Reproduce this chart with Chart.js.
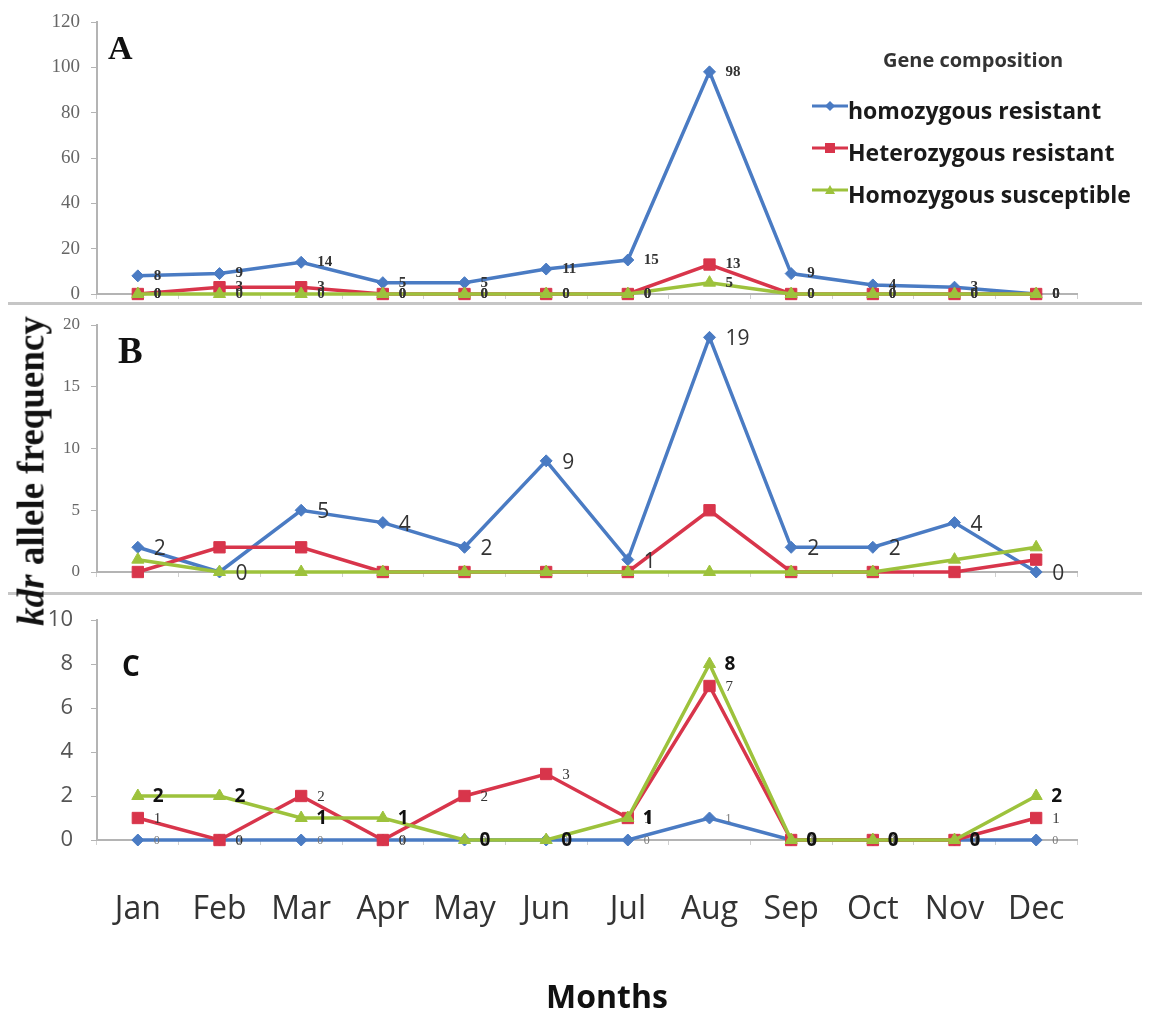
<!DOCTYPE html>
<html><head><meta charset="utf-8">
<script src="https://cdn.jsdelivr.net/npm/chart.js@4.4.1/dist/chart.umd.min.js"></script>
<style>
html,body{margin:0;padding:0;background:#fff;}
#wrap{position:relative;width:1150px;height:1016px;overflow:hidden;background:#fff;}
canvas{position:absolute;left:0;}
.t{position:absolute;white-space:nowrap;line-height:1;}
.sep{position:absolute;left:8px;width:1134px;height:3px;background:#c6c6c6;}
.leg{position:absolute;left:812px;}
</style></head><body>
<div id="wrap">
<canvas id="cA" width="1150" height="303" style="top:0px"></canvas>
<canvas id="cB" width="1150" height="294" style="top:300px"></canvas>
<canvas id="cC" width="1150" height="422" style="top:594px"></canvas>
<div class="sep" style="top:302px"></div>
<div class="sep" style="top:592px"></div>
<div class="t" style="left:108px;top:29px;font:bold 34px 'Liberation Serif';color:#111">A</div>
<div class="t" style="left:118px;top:329px;font:bold 37px 'Liberation Serif';color:#111">B</div>
<div class="t" style="left:122px;top:646px;font:bold 28px 'Open Sans';color:#111">C</div>
<div class="t" id="ytitle" style="left:31px;top:471px;transform:translate(-50%,-50%) rotate(-90deg);font:bold 37px 'Liberation Serif';color:#111"><i>kdr</i> allele frequency</div>
<div class="t" style="left:607px;top:995px;transform:translate(-50%,-50%);font:bold 32px 'Open Sans';color:#111">Months</div>
<div id="legend"></div>
</div>
<script>
const months = ['Jan','Feb','Mar','Apr','May','Jun','Jul','Aug','Sep','Oct','Nov','Dec'];
const seriesNames = ['homozygous resistant','Heterozygous resistant','Homozygous susceptible'];
const legendTitle = 'Gene composition';
// Panel A
const homRes_A = [8,9,14,5,5,11,15,98,9,4,3,0];
const hetRes_A = [0,3,3,0,0,0,0,13,0,0,0,0];
const homSus_A = [0,0,0,0,0,0,0,5,0,0,0,0];
// Panel B
const homRes_B = [2,0,5,4,2,9,1,19,2,2,4,0];
const hetRes_B = [0,2,2,0,0,0,0,5,0,0,0,1];
const homSus_B = [1,0,0,0,0,0,0,0,0,0,1,2];
// Panel C
const homRes_C = [0,0,0,0,0,0,0,1,0,0,0,0];
const hetRes_C = [1,0,2,0,2,3,1,7,0,0,0,1];
const homSus_C = [2,2,1,1,0,0,1,8,0,0,0,2];
// Y tick ranges
const yMaxA = 120, yStepA = 20;
const yMaxB = 20, yStepB = 5;
const yMaxC = 10, yStepC = 2;

const colors = ['#4a7bc3','#d8354b','#9dc23c'];
const styles = ['rectRot','rect','triangle'];
const radii = [6,8,7];
const orders = [3,2,1];

const labelPlugin = {
  id: 'ptLabels',
  afterDatasetsDraw(chart) {
    const ctx = chart.ctx;
    chart.data.datasets.forEach((ds, i) => {
      const lab = ds.ptLabel; if (!lab) return;
      const meta = chart.getDatasetMeta(i);
      ctx.save();
      ctx.font = lab.font; ctx.fillStyle = lab.color;
      ctx.textAlign = 'left'; ctx.textBaseline = 'middle';
      meta.data.forEach((pt, j) => {
        ctx.fillText(String(ds.data[j]), pt.x + lab.dx, pt.y + (lab.dy || 0));
      });
      ctx.restore();
    });
  }
};

function makePanel(id, series, cfg) {
  const datasets = series.map((vals, i) => ({
    label: seriesNames[i], data: vals,
    borderColor: colors[i], backgroundColor: colors[i],
    borderWidth: 3.5, pointStyle: styles[i], pointRadius: radii[i],
    pointBorderWidth: 1, pointBorderColor: colors[i], pointBackgroundColor: colors[i],
    tension: 0, clip: false, order: orders[i], ptLabel: cfg.labels[i]
  }));
  return new Chart(document.getElementById(id), {
    type: 'line',
    data: { labels: months, datasets },
    plugins: [labelPlugin],
    options: {
      responsive: false, animation: false, events: [],
      layout: { padding: { left: 0, right: 73, top: cfg.padTop, bottom: cfg.padBottom } },
      plugins: { legend: { display: false }, tooltip: { enabled: false } },
      scales: {
        x: {
          offset: true,
          grid: { offset: true, drawOnChartArea: false, drawTicks: true, tickLength: 5, color: '#d0d0d0' },
          border: { color: '#b4b4b4', width: 2 },
          ticks: cfg.xTicks ? { display: true, padding: cfg.xPad, color: '#333', font: { family: 'Open Sans', size: 32 }, maxRotation: 0, autoSkip: false } : { display: false },
          afterFit(s) { s.height = cfg.xHeight; s.paddingLeft = 0; s.paddingRight = 0; }
        },
        y: {
          min: 0, max: cfg.yMax,
          grid: { drawOnChartArea: false, drawTicks: true, tickLength: 6, color: '#b4b4b4' },
          border: { color: '#b4b4b4', width: 2 },
          ticks: { stepSize: cfg.yStep, padding: cfg.yPad, color: cfg.yColor, font: cfg.yFont },
          afterFit(s) { s.width = 97; s.paddingTop = 0; s.paddingBottom = 0; }
        }
      }
    }
  });
}

const lblA = { font: 'bold 15px "Liberation Serif"', color: '#333', dx: 16 };
makePanel('cA', [homRes_A, hetRes_A, homSus_A], {
  padTop: 22, padBottom: 0, xHeight: 5, xTicks: false,
  yMax: yMaxA, yStep: yStepA, yPad: 11, yColor: '#666', yFont: { family: 'Liberation Serif', size: 19 },
  labels: [lblA, lblA, lblA]
});
makePanel('cB', [homRes_B, hetRes_B, homSus_B], {
  padTop: 25, padBottom: 17, xHeight: 5, xTicks: false,
  yMax: yMaxB, yStep: yStepB, yPad: 11, yColor: '#666', yFont: { family: 'Liberation Serif', size: 17 },
  labels: [{ font: '21px "Open Sans"', color: '#333', dx: 16, dy: 2 }, null, null]
});
makePanel('cC', [homRes_C, hetRes_C, homSus_C], {
  padTop: 26, padBottom: 0, xHeight: 176, xTicks: true, xPad: 46,
  yMax: yMaxC, yStep: yStepC, yPad: 18, yColor: '#555', yFont: { family: 'Open Sans', size: 22 },
  labels: [
    { font: '12px "Liberation Serif"', color: '#777', dx: 16, dy: 1 },
    { font: '15px "Liberation Serif"', color: '#333', dx: 16, dy: 1 },
    { font: 'bold 19px "Open Sans"', color: '#111', dx: 15, dy: 1 }
  ]
});

// HTML legend
const lg = document.getElementById('legend');
const title = document.createElement('div');
title.className = 't';
title.style.cssText = "left:883px;top:46px;font:bold 20px 'Open Sans';color:#333";
title.textContent = legendTitle;
lg.appendChild(title);
const rowY = [106, 148, 190];
seriesNames.forEach((name, i) => {
  const c = colors[i];
  let shape = '';
  if (styles[i] === 'rectRot') shape = `<polygon points="18,2 23,7 18,12 13,7" fill="${c}"/>`;
  else if (styles[i] === 'rect') shape = `<rect x="13" y="2" width="10" height="10" fill="${c}"/>`;
  else shape = `<polygon points="18,2 23,11 13,11" fill="${c}"/>`;
  const m = document.createElement('div');
  m.className = 'leg';
  m.style.top = (rowY[i] - 7) + 'px';
  m.innerHTML = `<svg width="36" height="14"><line x1="0" y1="7" x2="36" y2="7" stroke="${c}" stroke-width="3"/>${shape}</svg>`;
  lg.appendChild(m);
  const t = document.createElement('div');
  t.className = 't';
  t.style.cssText = `left:848px;top:${rowY[i] + 8 - 20.5}px;font:bold 23px 'Open Sans';color:#1a1a1a`;
  t.textContent = name;
  lg.appendChild(t);
});
</script>
</body></html>
